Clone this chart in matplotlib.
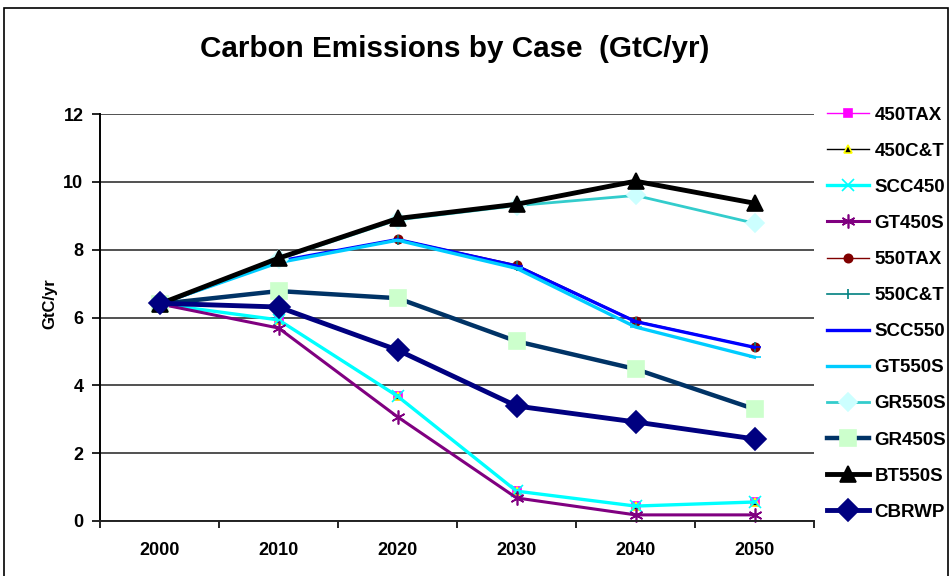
import numpy as np
import matplotlib.pyplot as plt
from matplotlib.patches import Rectangle

plt.rcParams['font.family'] = ['Liberation Sans', 'DejaVu Sans']
plt.rcParams['font.weight'] = 'bold'

years = ['2000', '2010', '2020', '2030', '2040', '2050']

tax450 = [6.40, 5.93, 3.68, 0.88, 0.44, 0.56]
ct450 = [6.40, 5.93, 3.68, 0.88, 0.44, 0.56]
scc450 = [6.40, 5.93, 3.68, 0.88, 0.44, 0.56]
gt450s = [6.40, 5.69, 3.07, 0.68, 0.18, 0.18]
tax550 = [6.40, 7.66, 8.31, 7.55, 5.90, 5.13]
ct550 = [6.40, 7.66, 8.30, 7.53, 5.88, 5.12]
scc550 = [6.40, 7.66, 8.30, 7.52, 5.88, 5.12]
gt550s = [6.40, 7.62, 8.28, 7.45, 5.72, 4.83]
gr550s = [6.40, 7.72, 8.88, 9.30, 9.60, 8.78]
gr450s = [6.40, 6.78, 6.57, 5.30, 4.48, 3.30]
bt550s = [6.40, 7.75, 8.92, 9.34, 10.02, 9.37]
cbrwp = [6.42, 6.31, 5.04, 3.39, 2.92, 2.42]

fig = plt.figure(figsize=(9.51, 5.76), dpi=100)
ax = fig.add_axes([0.1052, 0.0955, 0.7508, 0.7065])

x = np.arange(len(years))

# name, values, line colour, width, marker, size, face, edge
series = [
    ('450TAX', tax450, '#FF00FF', 1.0, 's', 6, '#FF00FF', '#FF00FF'),
    ('450C&T', ct450, '#000000', 1.0, '^', 6, '#000000', '#FFFF00'),
    ('SCC450', scc450, '#00FFFF', 2.4, 'x', 8, '#00FFFF', '#00FFFF'),
    ('GT450S', gt450s, '#800080', 2.2, (6, 2, 0), 10, '#800080', '#800080'),
    ('550TAX', tax550, '#800000', 1.0, 'o', 6, '#800000', '#800000'),
    ('550C&T', ct550, '#008080', 1.2, '|', 7, '#008080', '#008080'),
    ('SCC550', scc550, '#0000FF', 2.4, '_', 8, '#0000FF', '#0000FF'),
    ('GT550S', gt550s, '#00CCFF', 2.4, '_', 8, '#00CCFF', '#00CCFF'),
    ('GR550S', gr550s, '#33CCCC', 2.0, 'D', 9, '#CCFFFF', '#CCFFFF'),
    ('GR450S', gr450s, '#003366', 3.2, 's', 11, '#CCFFCC', '#CCFFCC'),
    ('BT550S', bt550s, '#000000', 3.5, '^', 12, '#000000', '#000000'),
    ('CBRWP', cbrwp, '#000080', 3.5, 'D', 11, '#000080', '#000080'),
]

for name, vals, col, lw, mk, ms, fc, ec in series:
    ax.plot(x, vals, color=col, lw=lw, marker=mk, markersize=ms,
            markerfacecolor=fc, markeredgecolor=ec, markeredgewidth=1.2,
            label=name, clip_on=False)

ax.set_ylim(0, 12)
ax.set_xlim(-0.5, 5.5)
ax.set_yticks(range(0, 13, 2))
ax.yaxis.grid(True, color='#333333', lw=1.2)
ax.set_axisbelow(True)

# category boundaries carry the tick marks, labels sit in the middle
ax.set_xticks(np.arange(-0.5, 6, 1))
ax.set_xticklabels([])
ax.set_xticks(x, minor=True)
ax.set_xticklabels(years, minor=True, fontsize=13, fontweight='bold')
ax.tick_params(axis='x', which='minor', length=0, pad=15)
ax.tick_params(axis='x', which='major', length=5, width=1.2, direction='out')
ax.tick_params(axis='y', length=6, width=1.2, labelsize=13, pad=6)
for lab in ax.get_yticklabels():
    lab.set_fontweight('bold')

for s in ['top', 'right']:
    ax.spines[s].set_visible(False)
ax.spines['left'].set_linewidth(1.4)
ax.spines['bottom'].set_linewidth(1.4)
ax.spines['bottom'].set_color('#222222')

ax.set_ylabel('GtC/yr', fontsize=12, fontweight='bold')
ax.yaxis.set_label_coords(-0.060, 0.533)

fig.text(0.478, 0.915, 'Carbon Emissions by Case  (GtC/yr)', ha='center', va='center',
         fontsize=21.3, fontweight='bold')

fig.legend(loc='upper left', bbox_to_anchor=(0.862, 0.828), frameon=False,
           handlelength=2.25, handletextpad=0.28, labelspacing=1.012,
           borderaxespad=0, prop={'weight': 'bold', 'size': 13.5})

# chart border
fig.patches.append(Rectangle((4 / 951, -0.05), 944 / 951, 1.05 - 8 / 576,
                             transform=fig.transFigure, fill=False,
                             edgecolor='black', lw=1.2))

fig.savefig('out.png', dpi=100)
